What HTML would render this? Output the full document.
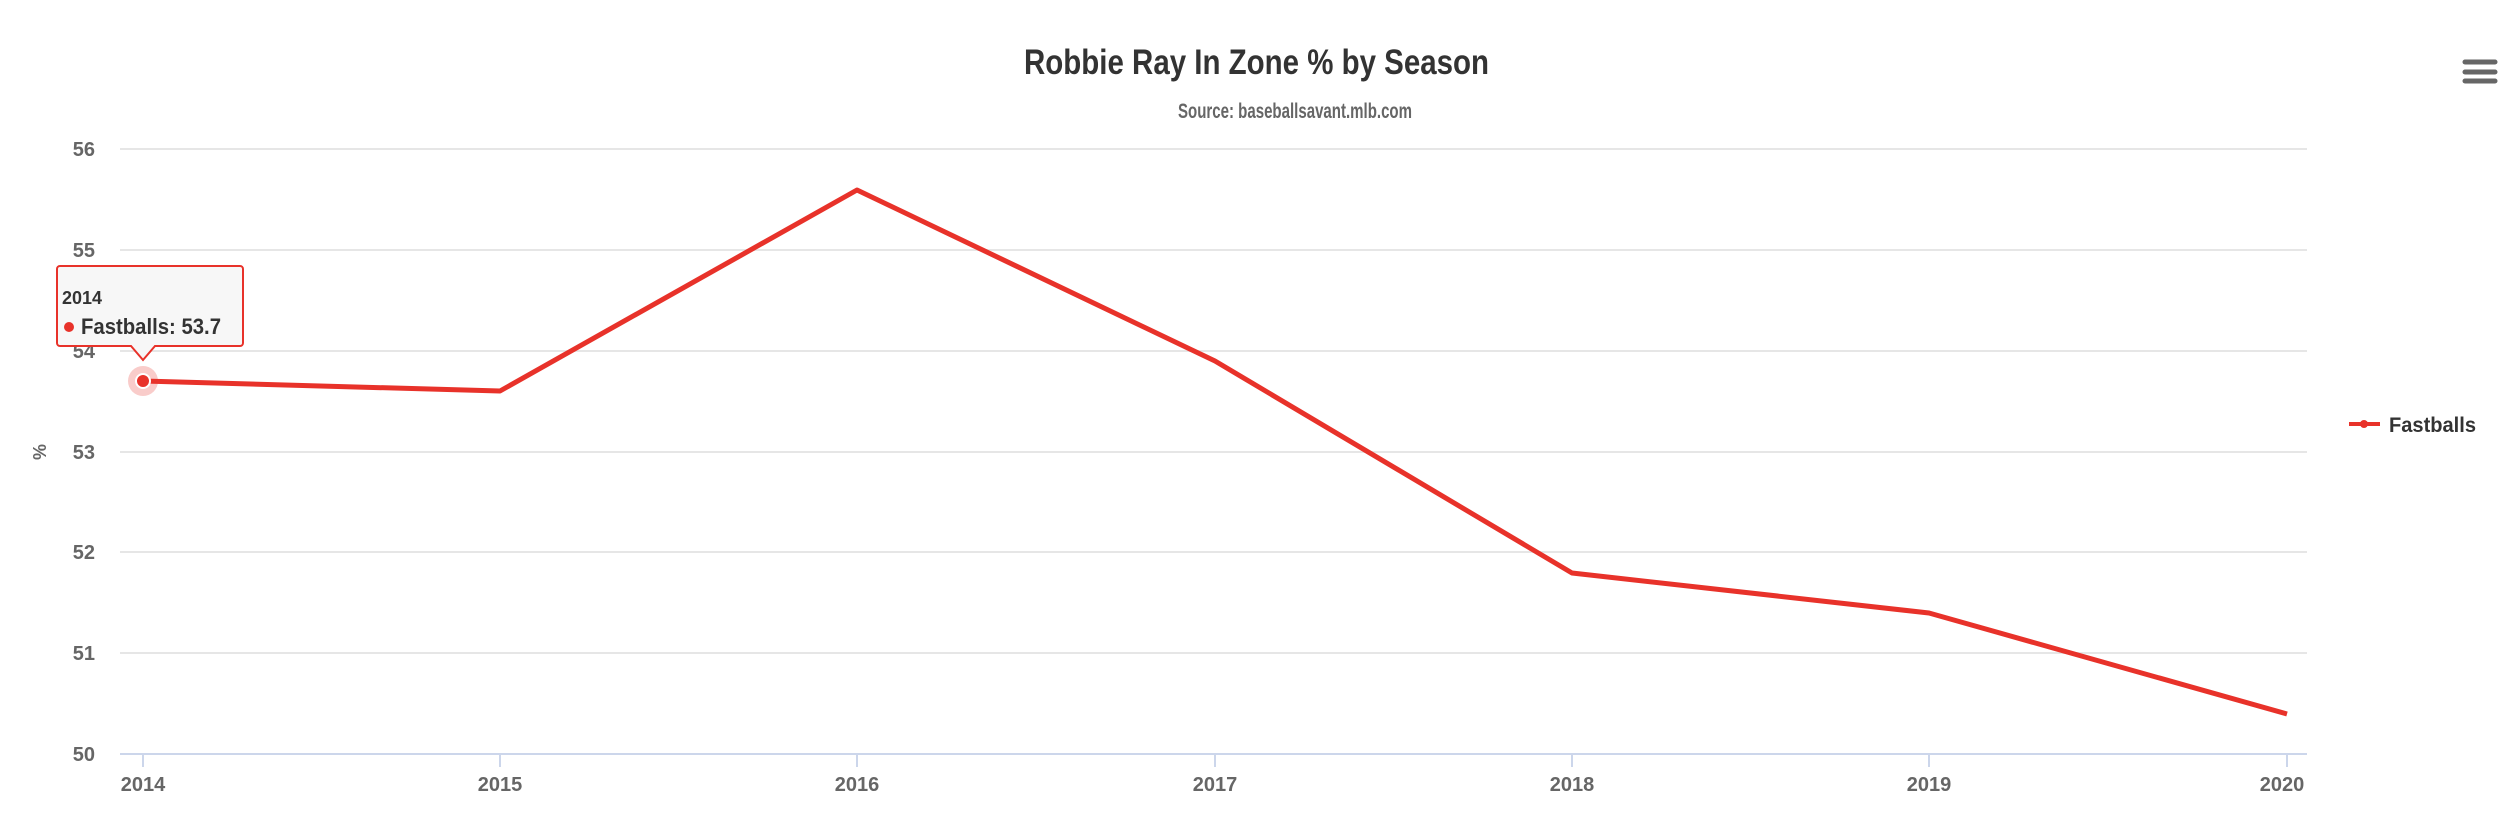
<!DOCTYPE html>
<html><head><meta charset="utf-8"><style>
html,body{margin:0;padding:0;background:#fff;}
svg{display:block;font-family:"Liberation Sans Narrow","Liberation Sans",sans-serif;font-weight:bold;}
</style></head><body>
<svg width="2516" height="826" viewBox="0 0 2516 826" xmlns="http://www.w3.org/2000/svg">
<text x="1024" y="74" font-size="35" fill="#333" textLength="465" lengthAdjust="spacingAndGlyphs">Robbie Ray In Zone % by Season</text>
<text x="1178" y="118" font-size="21" fill="#666" textLength="234" lengthAdjust="spacingAndGlyphs">Source: baseballsavant.mlb.com</text>
<g stroke="#e6e6e6" stroke-width="2">
<line x1="120" x2="2307" y1="149" y2="149"/>
<line x1="120" x2="2307" y1="250" y2="250"/>
<line x1="120" x2="2307" y1="351" y2="351"/>
<line x1="120" x2="2307" y1="452" y2="452"/>
<line x1="120" x2="2307" y1="552" y2="552"/>
<line x1="120" x2="2307" y1="653" y2="653"/>
</g>
<line x1="120" x2="2307" y1="754" y2="754" stroke="#ccd6eb" stroke-width="2"/>
<g stroke="#ccd6eb" stroke-width="2">
<line x1="143" x2="143" y1="754" y2="767"/><line x1="500" x2="500" y1="754" y2="767"/>
<line x1="857" x2="857" y1="754" y2="767"/><line x1="1215" x2="1215" y1="754" y2="767"/>
<line x1="1572" x2="1572" y1="754" y2="767"/><line x1="1929" x2="1929" y1="754" y2="767"/>
<line x1="2287" x2="2287" y1="754" y2="767"/>
</g>
<g font-size="20" fill="#666" text-anchor="end">
<text x="95" y="156">56</text><text x="95" y="257">55</text><text x="95" y="358">54</text>
<text x="95" y="459">53</text><text x="95" y="559">52</text><text x="95" y="660">51</text>
<text x="95" y="761">50</text>
</g>
<g font-size="20" fill="#666" text-anchor="middle">
<text x="143" y="791">2014</text><text x="500" y="791">2015</text><text x="857" y="791">2016</text>
<text x="1215" y="791">2017</text><text x="1572" y="791">2018</text><text x="1929" y="791">2019</text>
<text x="2282" y="791">2020</text>
</g>
<text transform="translate(46,452) rotate(-90)" text-anchor="middle" font-size="18" fill="#666">%</text>
<polyline fill="none" stroke="#e8322a" stroke-width="5" stroke-linejoin="round" points="143,381 500,391 857,190 1215,361 1572,573 1929,613 2287,714"/>
<circle cx="143" cy="381" r="15" fill="#e8322a" fill-opacity="0.25"/>
<circle cx="143" cy="381" r="7" fill="#e8322a" stroke="#fff" stroke-width="2"/>
<g>
<path d="M60,266 H240 a3,3 0 0 1 3,3 V343 a3,3 0 0 1 -3,3 H155 L143,360 L131,346 H60 a3,3 0 0 1 -3,-3 V269 a3,3 0 0 1 3,-3 Z" fill="#f7f7f7" stroke="#e8322a" stroke-width="2"/>
<text x="62" y="304" font-size="18" fill="#333" textLength="40" lengthAdjust="spacingAndGlyphs">2014</text>
<circle cx="69" cy="327" r="5" fill="#e8322a"/>
<text x="81" y="334" font-size="22" fill="#333" textLength="140" lengthAdjust="spacingAndGlyphs">Fastballs: 53.7</text>
</g>
<line x1="2349" x2="2380" y1="424" y2="424" stroke="#e8322a" stroke-width="4"/>
<circle cx="2364" cy="424" r="4" fill="#e8322a"/>
<text x="2389" y="432" font-size="21" fill="#333" textLength="87" lengthAdjust="spacingAndGlyphs">Fastballs</text>
<g stroke="#666" stroke-width="5" stroke-linecap="round">
<line x1="2465" x2="2495" y1="62" y2="62"/><line x1="2465" x2="2495" y1="72" y2="72"/><line x1="2465" x2="2495" y1="81" y2="81"/>
</g>
</svg>
</body></html>
